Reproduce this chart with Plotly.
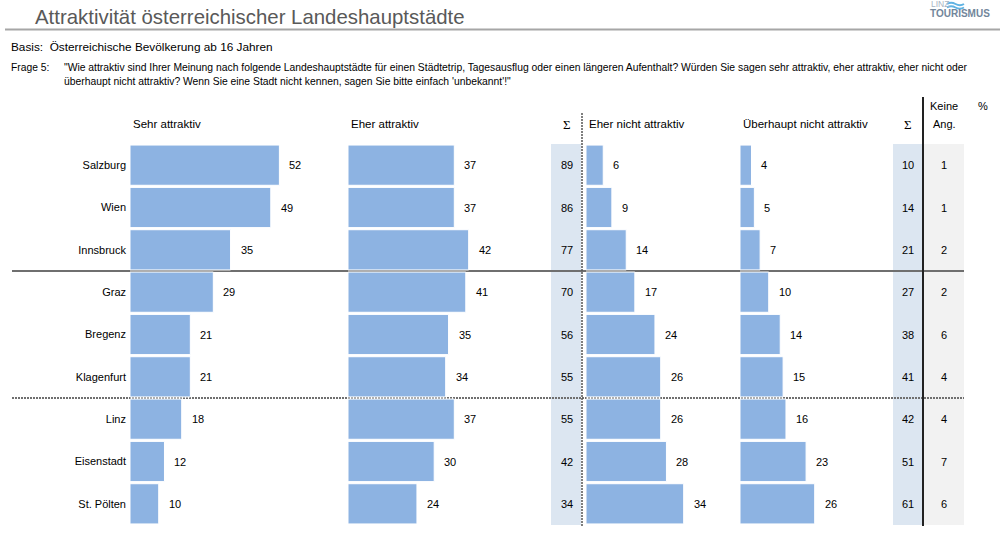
import plotly.graph_objects as go

# ---------------- data ----------------
cities = ["Salzburg", "Wien", "Innsbruck", "Graz", "Bregenz", "Klagenfurt",
          "Linz", "Eisenstadt", "St. Pölten"]
sehr_attraktiv = [52, 49, 35, 29, 21, 21, 18, 12, 10]
eher_attraktiv = [37, 37, 42, 41, 35, 34, 37, 30, 24]
summe_positiv = [89, 86, 77, 70, 56, 55, 55, 42, 34]
eher_nicht = [6, 9, 14, 17, 24, 26, 26, 28, 34]
ueberhaupt_nicht = [4, 5, 7, 10, 14, 15, 16, 23, 26]
summe_negativ = [10, 14, 21, 27, 38, 41, 42, 51, 61]
keine_angabe = [1, 1, 2, 2, 6, 4, 4, 7, 6]

panel_titles = ["Sehr attraktiv", "Eher attraktiv", "Eher nicht attraktiv",
                "Überhaupt nicht attraktiv"]

# ---------------- layout helpers (pixels -> paper) ----------------
W, H = 1000, 535
def px(x):
    return x / W
def py(y):
    return 1 - y / H

SCALE = 2.873  # pixels per percentage point
BAR = "#8DB3E2"
FONT = "Liberation Sans, Arial, sans-serif"
SERIF = "Liberation Serif, Times New Roman, serif"

panels = [  # (left px, right px)
    (130, 340),
    (348, 548),
    (586, 736),
    (740, 890),
]
series = [sehr_attraktiv, eher_attraktiv, eher_nicht, ueberhaupt_nicht]

fig = go.Figure()
annotations = []
shapes = []

def note(text, x, y, size=11, color="#000", xanchor="left", xref="paper", yref="paper",
         family=None, **kw):
    f = dict(size=size, color=color)
    if family:
        f["family"] = family
    d = dict(x=x, y=y, xref=xref, yref=yref, text=text, showarrow=False,
             xanchor=xanchor, yanchor="middle", font=f)
    d.update(kw)
    annotations.append(d)

for i, (vals, (x0, x1)) in enumerate(zip(series, panels)):
    ax = "x" if i == 0 else f"x{i+1}"
    fig.add_trace(go.Bar(
        x=vals, y=cities, orientation="h", xaxis=ax, yaxis="y",
        marker=dict(color=BAR, line=dict(color="white", width=1)),
        hoverinfo="x+y", showlegend=False,
    ))
    key = "xaxis" if i == 0 else f"xaxis{i+1}"
    fig.layout[key] = dict(domain=[px(x0), px(x1)],
                           range=[0, (x1 - x0) / SCALE],
                           visible=False, fixedrange=True, anchor="y")
    for c, v in zip(cities, vals):
        note(str(v), v, c, xref=ax, yref="y", xshift=8)
    note(panel_titles[i], px(x0 + 1), py(124), size=11.5)

# Column backgrounds (Σ columns and "Keine Ang.")
for (cx0, cx1, col) in [(551, 581, "#DCE6F1"), (893, 922, "#DCE6F1"),
                        (924, 964, "#F2F2F2")]:
    shapes.append(dict(type="rect", xref="paper", yref="y",
                       x0=px(cx0), x1=px(cx1), y0=-0.5, y1=8.5,
                       fillcolor=col, line=dict(width=0), layer="below"))

# Σ / Keine Ang. values
for colx, vals in [(567, summe_positiv), (908, summe_negativ), (944, keine_angabe)]:
    for c, v in zip(cities, vals):
        note(str(v), px(colx), c, xanchor="center", yref="y")

# Group separators
shapes.append(dict(type="line", xref="paper", yref="y", x0=px(12), x1=px(964),
                   y0=2.5, y1=2.5, line=dict(color="#6f6f6f", width=2),
                   layer="below"))
shapes.append(dict(type="line", xref="paper", yref="y", x0=px(12), x1=px(964),
                   y0=5.5, y1=5.5, line=dict(color="#6f6f6f", width=2, dash="2px,1px"),
                   layer="below"))

# Vertical separators
shapes.append(dict(type="line", xref="paper", yref="paper", x0=px(582), x1=px(582),
                   y0=py(113), y1=py(526), line=dict(color="#555", width=1.5, dash="2px,1px")))
shapes.append(dict(type="line", xref="paper", yref="paper", x0=px(923), x1=px(923),
                   y0=py(97), y1=py(526), line=dict(color="#222", width=2)))

# Title line
shapes.append(dict(type="line", xref="paper", yref="paper", x0=px(5), x1=px(1000),
                   y0=py(29.5), y1=py(29.5), line=dict(color="#a6a6a6", width=2)))

# Header texts
note("Σ", px(567), py(124), size=13, xanchor="center", family=SERIF)
note("Σ", px(908), py(124), size=13, xanchor="center", family=SERIF)
note("Keine", px(944), py(106), xanchor="center")
note("Ang.", px(944), py(124), xanchor="center")
note("%", px(983), py(106), xanchor="center")

# Title, basis, question
note("Attraktivität österreichischer Landeshauptstädte", px(33), py(17),
     size=20.4, color="#595959")
note("Basis:  Österreichische Bevölkerung ab 16 Jahren", px(9), py(47), size=11.8)
note("Frage 5:", px(9), py(68), size=10.3)
q1 = ("\"Wie attraktiv sind Ihrer Meinung nach folgende Landeshauptstädte für einen "
      "Städtetrip, Tagesausflug oder einen längeren Aufenthalt? Würden Sie sagen sehr "
      "attraktiv, eher attraktiv, eher nicht oder")
q2 = ("überhaupt nicht attraktiv? Wenn Sie eine Stadt nicht kennen, sagen Sie bitte "
      "einfach 'unbekannt'!\"")
note(q1, px(62), py(68), size=10.35)
note(q2, px(62), py(81), size=10.35)

# Logo
note("LINZ", px(929), py(4), size=8.5, color="#a7b4c3")
note("<b>TOURISMUS</b>", px(928), py(14), size=10, color="#72869b")
for yy in (4, 7.5):
    shapes.append(dict(type="path", xref="paper", yref="paper",
                       path=(f"M {px(947)} {py(yy)} Q {px(951)} {py(yy-2.5)} {px(955.5)} {py(yy)} "
                             f"T {px(964)} {py(yy)}"),
                       line=dict(color="#5fb3e3", width=2)))

fig.update_layout(
    width=W, height=H,
    margin=dict(l=0, r=0, t=0, b=0),
    paper_bgcolor="white", plot_bgcolor="rgba(0,0,0,0)",
    font=dict(family=FONT, color="#000"),
    bargap=0.05,
    yaxis=dict(domain=[py(525), py(144)], range=[8.5, -0.5], type="category",
               anchor="x", showgrid=False, zeroline=False, showline=False,
               ticks="", ticklabelstandoff=3, tickfont=dict(size=11, color="#000"),
               fixedrange=True),
    annotations=annotations,
    shapes=shapes,
)

fig.write_html("out.html", config={"displayModeBar": False},
               post_script="document.body.style.margin='0';document.body.style.padding='0';")
